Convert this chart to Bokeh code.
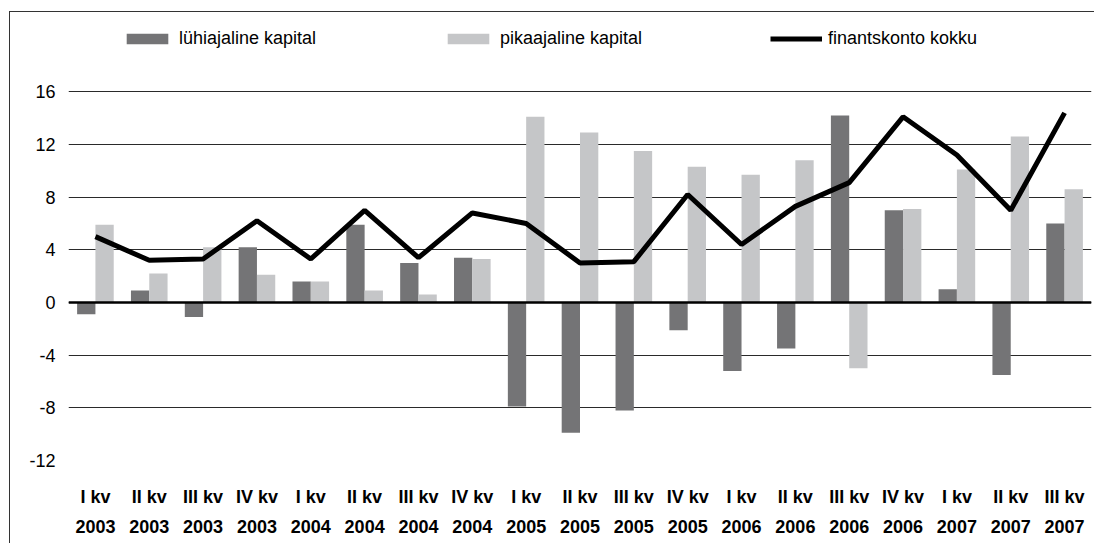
from bokeh.plotting import figure
from bokeh.models import (FactorRange, ColumnDataSource, FixedTicker, Span, Legend, LegendItem,
                          CategoricalAxis, CustomJSTickFormatter)
from bokeh.transform import dodge
from bokeh.embed import file_html
from bokeh.resources import INLINE

quarters = ["I kv", "II kv", "III kv", "IV kv", "I kv", "II kv", "III kv", "IV kv",
            "I kv", "II kv", "III kv", "IV kv", "I kv", "II kv", "III kv", "IV kv",
            "I kv", "II kv", "III kv"]
years = ["2003", "2003", "2003", "2003", "2004", "2004", "2004", "2004",
         "2005", "2005", "2005", "2005", "2006", "2006", "2006", "2006",
         "2007", "2007", "2007"]
luhiajaline = [-0.9, 0.9, -1.1, 4.2, 1.6, 5.9, 3.0, 3.4, -7.9, -9.9, -8.2, -2.1,
               -5.2, -3.5, 14.2, 7.0, 1.0, -5.5, 6.0]
pikaajaline = [5.9, 2.2, 4.2, 2.1, 1.6, 0.9, 0.6, 3.3, 14.1, 12.9, 11.5, 10.3,
               9.7, 10.8, -5.0, 7.1, 10.1, 12.6, 8.6]
finantskonto = [5.0, 3.2, 3.3, 6.2, 3.3, 7.0, 3.4, 6.8, 6.0, 3.0, 3.1, 8.2,
                4.4, 7.3, 9.1, 14.1, 11.2, 7.0, 14.4]
y_ticks = [-12, -8, -4, 0, 4, 8, 12, 16]

cats = [q + " " + y for q, y in zip(quarters, years)]
src = ColumnDataSource(dict(cat=cats, luh=luhiajaline, pik=pikaajaline, fin=finantskonto))

FONT = "Liberation Sans"
DARK = "#747476"
LIGHT = "#c5c6c8"

# frame extends to the top of the canvas so the legend sits inside it
p = figure(width=1085, height=532, x_range=FactorRange(*cats, range_padding=0),
           y_range=(-12, 22.02), output_backend="svg", toolbar_location=None,
           min_border_left=58, min_border_right=4, min_border_top=0, min_border_bottom=84,
           x_axis_location=None)
p.styles = {"border-top": "1.5px solid #333333", "border-left": "1.5px solid #333333",
            "margin-top": "10.5px", "margin-left": "9px"}
p.outline_line_color = None
p.background_fill_color = "white"
p.border_fill_color = "white"

p.ygrid.ticker = FixedTicker(ticks=y_ticks)
p.ygrid.grid_line_color = "#2a2a2a"
p.ygrid.grid_line_width = 1
p.xgrid.grid_line_color = None

yax = p.yaxis[0]
yax.ticker = FixedTicker(ticks=y_ticks)
yax.formatter = CustomJSTickFormatter(code="return String(tick);")
yax.axis_line_color = None
yax.major_tick_line_color = None
yax.minor_tick_line_color = None
yax.major_tick_out = 0
yax.major_tick_in = 0
yax.major_label_standoff = 13
yax.major_label_text_font = FONT
yax.major_label_text_font_size = "18px"
yax.major_label_text_color = "black"

r1 = p.vbar(x=dodge("cat", -0.17, range=p.x_range), top="luh", bottom=0, width=0.34,
            source=src, fill_color=DARK, line_color=None)
r2 = p.vbar(x=dodge("cat", 0.17, range=p.x_range), top="pik", bottom=0, width=0.34,
            source=src, fill_color=LIGHT, line_color=None)
zero = Span(location=0, dimension="width", line_color="black", line_width=2.5)
p.add_layout(zero)
r3 = p.line(x="cat", y="fin", source=src, line_color="black", line_width=5)

def mk_axis(code, standoff):
    ax = CategoricalAxis()
    ax.formatter = CustomJSTickFormatter(code=code)
    ax.axis_line_color = None
    ax.major_tick_line_color = None
    ax.minor_tick_line_color = None
    ax.major_tick_out = 0
    ax.major_tick_in = 0
    ax.major_label_standoff = standoff
    ax.major_label_text_font = FONT
    ax.major_label_text_font_size = "18px"
    ax.major_label_text_font_style = "bold"
    ax.major_label_text_color = "black"
    ax.major_label_orientation = "horizontal"
    return ax

p.add_layout(mk_axis("return tick.substring(0, tick.lastIndexOf(' '));", 26), "below")
p.add_layout(mk_axis("return tick.substring(tick.lastIndexOf(' ') + 1);", 10), "below")

def mk_legend(label, rend, x):
    lg = Legend(items=[LegendItem(label=label, renderers=[rend])], location=(x, 410.5),
                orientation="horizontal", glyph_width=52, glyph_height=13, label_standoff=6,
                padding=0, margin=0, border_line_color=None, background_fill_alpha=0,
                label_text_font=FONT, label_text_font_size="18px", label_text_color="black",
                label_height=13)
    p.add_layout(lg, "center")

mk_legend("lühiajaline kapital", r1, 53)
mk_legend("pikaajaline kapital", r2, 374)
mk_legend("finantskonto kokku", r3, 702)

open("out.html", "w").write(file_html(p, INLINE))
